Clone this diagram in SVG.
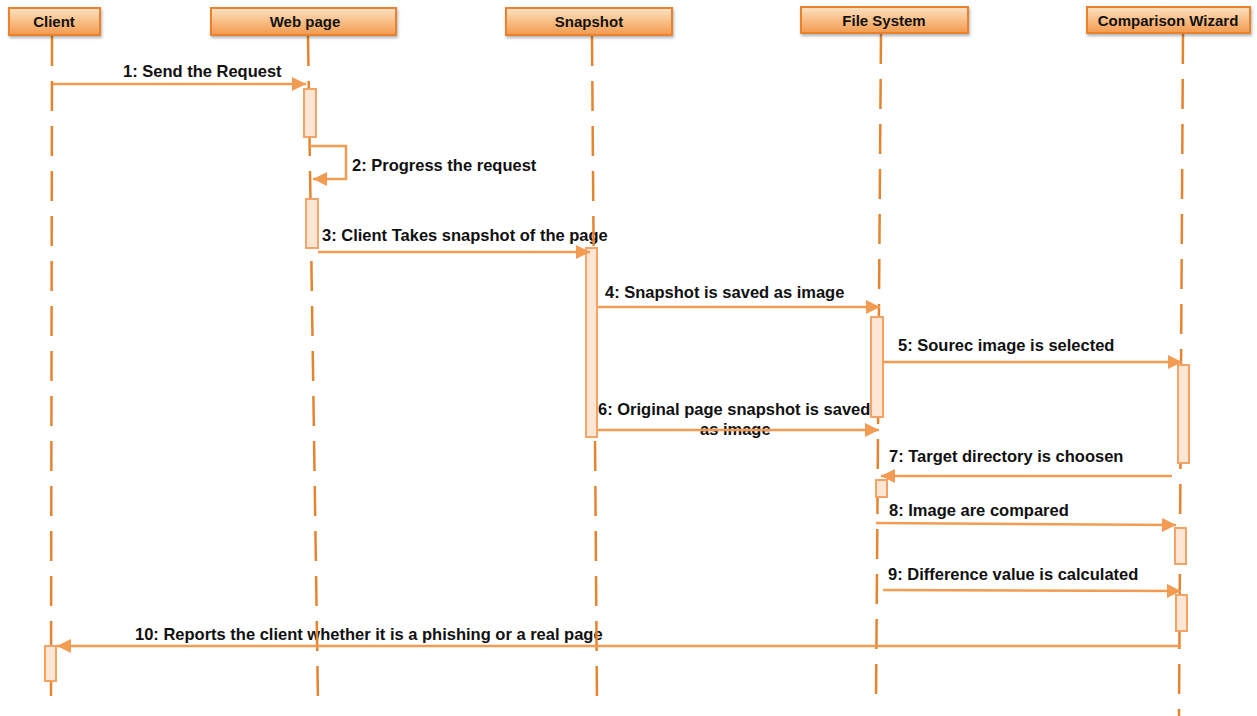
<svg xmlns="http://www.w3.org/2000/svg" width="1257" height="716" viewBox="0 0 1257 716">
<defs>
  <linearGradient id="hdr" x1="0" y1="0" x2="0" y2="1">
    <stop offset="0" stop-color="#FDE2C4"/>
    <stop offset="0.5" stop-color="#F9BE86"/>
    <stop offset="1" stop-color="#F29A4E"/>
  </linearGradient>
  <filter id="sh" x="-10%" y="-30%" width="120%" height="170%">
    <feDropShadow dx="1" dy="2" stdDeviation="1.5" flood-color="#000" flood-opacity="0.3"/>
  </filter>
  <marker id="ah" viewBox="0 0 10 10" refX="10" refY="5" markerWidth="14" markerHeight="14" markerUnits="userSpaceOnUse" orient="auto">
    <path d="M0,0 L10,5 L0,10 z" fill="#F29B52"/>
  </marker>
</defs>
<style>
  .box { fill: url(#hdr); stroke: #E8822E; stroke-width: 2; filter: url(#sh); }
  .ht { font-family: "Liberation Sans", Arial, sans-serif; font-weight: bold; font-size: 15px; fill: #111; text-anchor: middle; }
  .life { stroke: #E5842E; stroke-width: 2.5; stroke-dasharray: 30 15; fill: none; }
  .act { fill: #FDE6D3; stroke: #F2A466; stroke-width: 2; }
  .msg { stroke: #F29B52; stroke-width: 2.5; fill: none; marker-end: url(#ah); }
  .lbl { font-family: "Liberation Sans", Arial, sans-serif; font-weight: bold; font-size: 16.5px; fill: #111; }
</style>
<rect width="1257" height="716" fill="#fff"/>

<g id="labels">
  <text class="lbl" x="123" y="77">1: Send the Request</text>
  <text class="lbl" x="352" y="171">2: Progress the request</text>
  <text class="lbl" x="322" y="241">3: Client Takes snapshot of the page</text>
  <text class="lbl" x="605" y="298">4: Snapshot is saved as image</text>
  <text class="lbl" x="898" y="351">5: Sourec image is selected</text>
  <text class="lbl" x="598" y="415">6: Original page snapshot is saved</text>
  <text class="lbl" x="700" y="435">as image</text>
  <text class="lbl" x="889" y="462">7: Target directory is choosen</text>
  <text class="lbl" x="889" y="516">8: Image are compared</text>
  <text class="lbl" x="888" y="580">9: Difference value is calculated</text>
  <text class="lbl" x="135" y="640">10: Reports the client whether it is a phishing or a real page</text>
</g>

<g id="lifelines">
  <line class="life" x1="52" y1="36" x2="51" y2="703"/>
  <line class="life" x1="308" y1="36" x2="318" y2="703"/>
  <line class="life" x1="592" y1="36" x2="597" y2="703"/>
  <line class="life" x1="881" y1="34" x2="876" y2="703"/>
  <line class="life" x1="1183" y1="34" x2="1179" y2="716"/>
</g>

<g id="client"><rect class="box" x="9" y="8" width="91" height="27"/><text class="ht" x="54" y="27">Client</text></g>
<g id="webpage"><rect class="box" x="211" y="8" width="185" height="27"/><text class="ht" x="305" y="27">Web page</text></g>
<g id="snapshot"><rect class="box" x="506" y="8" width="166" height="27"/><text class="ht" x="589" y="27">Snapshot</text></g>
<g id="filesystem"><rect class="box" x="801" y="7" width="167" height="26"/><text class="ht" x="884" y="26">File System</text></g>
<g id="wizard"><rect class="box" x="1087" y="7" width="163" height="26"/><text class="ht" x="1168" y="26">Comparison Wizard</text></g>

<g id="activations">
  <rect class="act" x="304" y="89" width="12" height="48"/>
  <rect class="act" x="306" y="199" width="12" height="49"/>
  <rect class="act" x="586" y="248" width="11" height="189"/>
  <rect class="act" x="871" y="317" width="12" height="100"/>
  <rect class="act" x="1178" y="365" width="11" height="98"/>
  <rect class="act" x="876" y="480" width="11" height="17"/>
  <rect class="act" x="1175" y="528" width="11" height="36"/>
  <rect class="act" x="1176" y="595" width="11" height="36"/>
  <rect class="act" x="45" y="646" width="11" height="35"/>
</g>

<g id="connectors">
  <line class="msg" x1="53" y1="84" x2="306" y2="84"/>
  <polyline class="msg" points="310,146 346,146 346,179 313,179"/>
  <line class="msg" x1="318" y1="252" x2="590" y2="252"/>
  <line class="msg" x1="598" y1="307" x2="880" y2="307"/>
  <line class="msg" x1="883" y1="362" x2="1182" y2="362"/>
  <line class="msg" x1="598" y1="430" x2="879" y2="430"/>
  <line class="msg" x1="1172" y1="476" x2="881" y2="476"/>
  <line class="msg" x1="876" y1="523" x2="1176" y2="525"/>
  <line class="msg" x1="883" y1="590" x2="1181" y2="591"/>
  <line class="msg" x1="1181" y1="646" x2="57" y2="646"/>
</g>
</svg>
